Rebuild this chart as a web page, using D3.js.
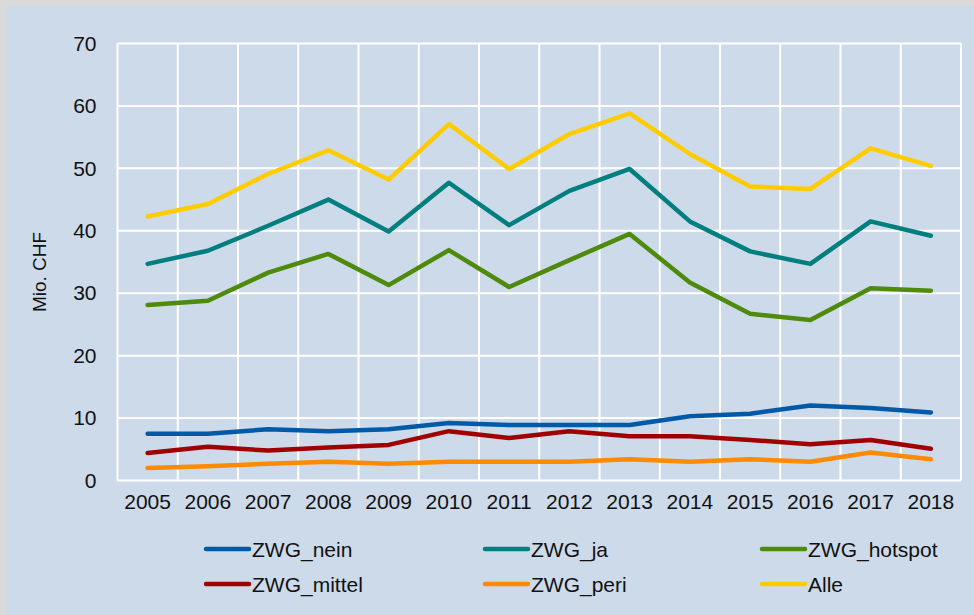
<!DOCTYPE html>
<html><head><meta charset="utf-8">
<script src="https://cdn.jsdelivr.net/npm/d3@7"></script>
<style>
html,body{margin:0;padding:0;background:#dadada;}
svg{display:block;}
text{font-family:"Liberation Sans",Arial,sans-serif;fill:#111;}
</style></head>
<body>
<script>
const years = ["2005","2006","2007","2008","2009","2010","2011","2012","2013","2014","2015","2016","2017","2018"];
const zwgNein    = [7.5, 7.5, 8.2, 7.9, 8.2, 9.2, 8.9, 8.9, 8.9, 10.3, 10.7, 12.0, 11.6, 10.9];
const zwgJa      = [34.7, 36.8, 40.8, 45.0, 39.9, 47.7, 40.9, 46.4, 49.9, 41.5, 36.7, 34.7, 41.5, 39.2];
const zwgHotspot = [28.1, 28.8, 33.3, 36.3, 31.3, 36.9, 31.0, 35.3, 39.5, 31.7, 26.7, 25.7, 30.8, 30.4];
const zwgMittel  = [4.4, 5.4, 4.8, 5.3, 5.7, 7.9, 6.8, 7.9, 7.1, 7.1, 6.5, 5.8, 6.5, 5.1];
const zwgPeri    = [2.0, 2.3, 2.7, 3.0, 2.7, 3.0, 3.0, 3.0, 3.4, 3.0, 3.4, 3.0, 4.5, 3.4];
const alle       = [42.3, 44.3, 49.1, 52.9, 48.2, 57.1, 49.9, 55.5, 58.8, 52.3, 47.1, 46.7, 53.2, 50.4];
const yTicks = [0,10,20,30,40,50,60,70];
const seriesNames = ["ZWG_nein","ZWG_ja","ZWG_hotspot","ZWG_mittel","ZWG_peri","Alle"];
const seriesColors = ["#005aa8","#007f7e","#4e8a0c","#a10000","#fd8a00","#ffcc00"];
const seriesValues = [zwgNein, zwgJa, zwgHotspot, zwgMittel, zwgPeri, alle];

const W = 974, H = 615;
const svg = d3.select("body").append("svg").attr("width", W).attr("height", H);
svg.append("rect").attr("x",5).attr("y",6).attr("width",W-5).attr("height",H-6).attr("fill","#cddaea");

const plotL = 117.5, plotR = 961, plotT = 43.5, plotB = 480.5;
const x = d3.scaleBand().domain(years).range([plotL, plotR]);
const y = d3.scaleLinear().domain([0,70]).range([plotB, plotT]);

const g = svg.append("g");
g.selectAll(".hg").data(yTicks).join("line")
  .attr("x1", plotL).attr("x2", plotR)
  .attr("y1", d=>y(d)).attr("y2", d=>y(d))
  .attr("stroke","#fff").attr("stroke-width",2);
const bounds = years.map(d=>x(d)).concat([x(years[years.length-1])+x.bandwidth()]);
g.selectAll(".vg").data(bounds).join("line")
  .attr("x1", d=>d).attr("x2", d=>d)
  .attr("y1", plotT).attr("y2", plotB)
  .attr("stroke","#fff").attr("stroke-width",2);

const yAxis = svg.append("g").attr("transform",`translate(${plotL},0)`)
  .call(d3.axisLeft(y).tickValues(yTicks).tickSize(0).tickPadding(21));
yAxis.select(".domain").remove();
yAxis.selectAll("text").style("font-size","21px").style("font-family","Liberation Sans, Arial, sans-serif").attr("fill","#111");

const xAxis = svg.append("g").attr("transform",`translate(0,${plotB})`)
  .call(d3.axisBottom(x).tickSize(0).tickPadding(14));
xAxis.select(".domain").remove();
xAxis.selectAll("text").style("font-size","21px").style("font-family","Liberation Sans, Arial, sans-serif").attr("fill","#111");

svg.append("text").attr("transform","translate(46,272) rotate(-90)")
  .attr("text-anchor","middle").style("font-size","19px").text("Mio. CHF");

const line = d3.line().x((d,i)=>x(years[i])+x.bandwidth()/2).y(d=>y(d));
seriesValues.forEach((vals,k)=>{
  svg.append("path").datum(vals).attr("d", line)
    .attr("fill","none").attr("stroke", seriesColors[k])
    .attr("stroke-width",4.5).attr("stroke-linejoin","round").attr("stroke-linecap","round");
});

const colX = [206, 485, 762];
const rowY = [549, 584];
seriesNames.forEach((name,k)=>{
  const cx = colX[k%3], cy = rowY[Math.floor(k/3)];
  svg.append("line").attr("x1",cx).attr("x2",cx+43).attr("y1",cy).attr("y2",cy)
    .attr("stroke",seriesColors[k]).attr("stroke-width",4.5).attr("stroke-linecap","round");
  svg.append("text").attr("x",cx+46).attr("y",cy+7.5).style("font-size","21px").text(name);
});
</script>
</body></html>
